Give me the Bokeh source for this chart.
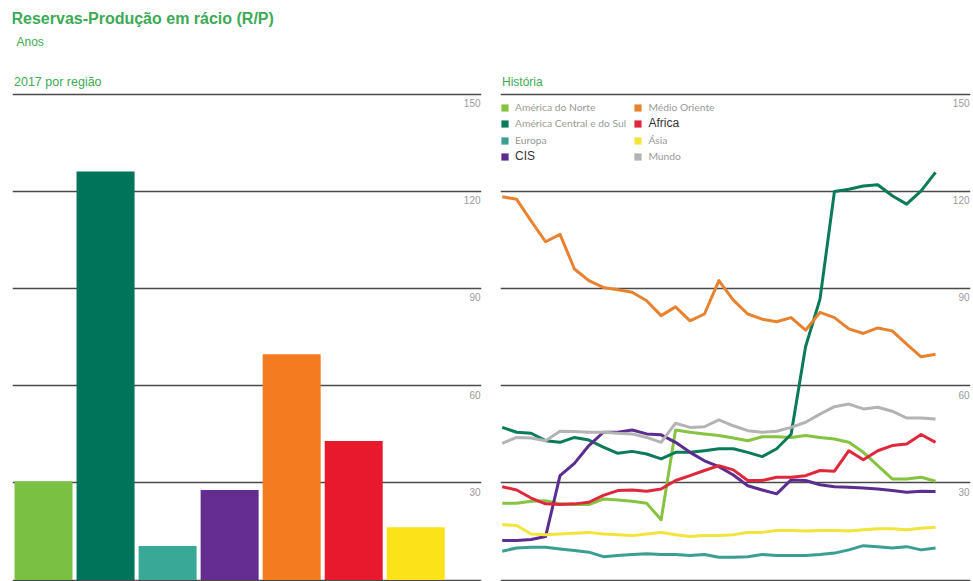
from bokeh.plotting import figure
from bokeh.layouts import row
from bokeh.models import Range1d, Grid, FixedTicker, Label, Legend, LegendItem
from bokeh.core.properties import value
from bokeh.embed import file_html
from bokeh.resources import INLINE

# ---------------- data ----------------
regions = ["América do Norte", "América Central e do Sul", "Europa", "CIS",
           "Médio Oriente", "Africa", "Ásia"]
rp_2017 = [30.5, 126.1, 10.5, 27.8, 69.7, 42.9, 16.3]
bar_colors = ["#7AC143", "#00745B", "#3AA897", "#652D90", "#F47B20", "#E8192C", "#FCE218"]

years = list(range(1987, 2018))
north_america = [23.7, 23.7, 24.3, 24.5, 23.5, 23.3, 23.3, 25.0, 24.7, 24.3, 23.7, 18.6,
                 46.3, 45.6, 45.1, 44.6, 43.8, 43.0, 44.2, 44.2, 44.0, 44.6, 44.0, 43.5,
                 42.5, 39.4, 35.3, 31.2, 31.2, 31.7, 30.5]
south_central_america = [47.1, 45.6, 45.3, 43.0, 42.5, 44.0, 43.2, 41.0, 39.1, 39.7, 38.9, 37.4,
                         39.4, 39.4, 39.9, 40.5, 40.5, 39.4, 38.1, 40.5, 45.0, 72.0, 86.7, 119.9,
                         120.6, 121.6, 122.0, 118.6, 116.0, 120.1, 125.8]
europe = [8.9, 9.9, 10.1, 10.1, 9.6, 9.1, 8.6, 7.2, 7.6, 7.9, 8.1, 7.9,
          7.9, 7.6, 7.9, 7.0, 7.0, 7.2, 7.9, 7.6, 7.6, 7.6, 7.9, 8.3,
          9.3, 10.6, 10.3, 9.9, 10.3, 9.3, 9.9]
cis = [12.2, 12.2, 12.5, 13.4, 32.2, 36.0, 41.5, 45.6, 45.6, 46.3, 45.1, 44.8,
       42.5, 39.4, 36.8, 35.0, 32.4, 29.1, 27.8, 26.6, 30.9, 30.7, 29.4, 28.8,
       28.6, 28.4, 28.1, 27.6, 27.1, 27.4, 27.3]
middle_east = [118.3, 117.5, 110.8, 104.4, 106.7, 96.0, 92.4, 90.3, 89.6, 88.8, 86.2, 81.6,
               84.3, 80.0, 82.1, 92.4, 86.4, 82.1, 80.5, 79.7, 81.0, 77.1, 82.6, 81.0,
               77.5, 76.1, 77.8, 76.9, 72.8, 68.9, 69.7]
africa = [28.8, 27.8, 25.3, 23.5, 23.3, 23.5, 24.0, 26.1, 27.6, 27.8, 27.4, 28.1,
          30.7, 32.2, 33.8, 35.3, 34.0, 30.7, 30.7, 31.7, 31.7, 32.2, 33.8, 33.6,
          39.9, 37.1, 39.9, 41.5, 42.0, 44.9, 42.5]
asia = [17.1, 16.8, 14.2, 14.0, 14.2, 14.4, 14.7, 14.2, 14.0, 13.7, 14.2, 14.7,
        14.0, 13.4, 13.7, 13.7, 14.0, 14.7, 14.7, 15.3, 15.3, 15.1, 15.3, 15.3,
        15.1, 15.5, 15.8, 15.8, 15.5, 16.0, 16.3]
world = [42.2, 44.0, 43.8, 43.0, 45.9, 45.8, 45.6, 45.6, 45.3, 45.1, 44.0, 42.5,
         48.4, 47.1, 47.3, 49.4, 47.6, 46.1, 45.6, 45.9, 47.1, 48.7, 51.2, 53.5,
         54.3, 52.8, 53.3, 52.1, 50.0, 50.0, 49.7]

series_names = ["América do Norte", "América Central e do Sul", "Europa", "CIS",
                "Médio Oriente", "Africa", "Ásia", "Mundo"]
series_values = [north_america, south_central_america, europe, cis,
                 middle_east, africa, asia, world]
line_colors = ["#86C341", "#0B7A5A", "#3A9E90", "#5B2D8E",
               "#E8822F", "#E0283C", "#F2E43A", "#B3B3B3"]

ticks = [0, 30, 60, 90, 120, 150]
tick_labels = ["30", "60", "90", "120", "150"]

# ---------------- styles ----------------
GREEN = "#3DAA55"
GRID = "#4a4a4a"
FONT = "Liberation Sans"
H = 581
PX_PER_UNIT = 3.24
Y0 = -0.46
Y1 = Y0 + H / PX_PER_UNIT   # frame covers the whole height so the headings are not clipped
NAN = float("nan")


def base_fig(width, x_range, border_left, border_right):
    p = figure(width=width, height=H, x_range=x_range, y_range=Range1d(Y0, Y1),
               x_axis_type=None, y_axis_type=None, toolbar_location=None,
               output_backend="svg", min_border_left=border_left,
               min_border_right=border_right, min_border_top=0, min_border_bottom=0)
    p.outline_line_color = None
    p.background_fill_color = "white"
    p.border_fill_color = "white"
    p.add_layout(Grid(dimension=1, ticker=FixedTicker(ticks=ticks),
                      grid_line_color=GRID, grid_line_width=1.6))
    p.text(x=[x_range.end] * len(tick_labels), y=ticks[1:], text=tick_labels,
           text_align="right", text_baseline="alphabetic", x_offset=-1, y_offset=9,
           text_font_size="10px", text_color="#9a9a9a", text_font=value(FONT))
    return p


# ---------------- left: bars ----------------
xr_left = Range1d(0, 7.56)
left = base_fig(490, xr_left, 12, 9)
xs = [i + 0.5 for i in range(len(regions))]
left.vbar(x=xs, top=rp_2017, width=0.935, color=bar_colors, line_color=None)

left.add_layout(Label(x=-1, y=H - 18, x_units="screen", y_units="screen",
                      text="Reservas-Produção em rácio (R/P)", text_font=FONT,
                      text_font_style="bold", text_font_size="16px", text_color=GREEN,
                      text_baseline="alphabetic"))
left.add_layout(Label(x=4, y=H - 41, x_units="screen", y_units="screen", text="Anos",
                      text_font=FONT, text_font_size="12px", text_color=GREEN,
                      text_baseline="alphabetic"))
left.add_layout(Label(x=1.5, y=H - 81, x_units="screen", y_units="screen",
                      text="2017 por região", text_font=FONT, text_font_size="12.5px",
                      text_color=GREEN, text_baseline="alphabetic"))

# ---------------- right: history lines ----------------
xr_right = Range1d(1986.88, 2019.42)
right = base_fig(483, xr_right, 10, 3)
for vals, c in zip(series_values, line_colors):
    right.line(years, vals, line_color=c, line_width=3, line_join="round")

right.add_layout(Label(x=1.5, y=H - 81, x_units="screen", y_units="screen",
                       text="História", text_font=FONT, text_font_size="12px",
                       text_color=GREEN, text_baseline="alphabetic"))

# legend: two columns of four; swatches come from invisible (NaN) quads
col_x = [0, 133.4]
row_center = [107, 123.3, 140, 156]
big = {"CIS", "Africa"}
for i, (name, c) in enumerate(zip(series_names, line_colors)):
    dummy = right.quad(left=[NAN], right=[NAN], top=[NAN], bottom=[NAN],
                       fill_color=c, line_color=None)
    col, r = divmod(i, 4)
    is_big = name in big
    h = 14 if is_big else 12
    leg = Legend(items=[LegendItem(label=name, renderers=[dummy])],
                 location=(col_x[col], H - (row_center[r] + h / 2)),
                 padding=0, margin=0, spacing=0, glyph_width=9, glyph_height=9,
                 label_height=9, label_standoff=6,
                 label_text_font=FONT if is_big else "Lato",
                 label_text_font_size="12px" if is_big else "10.3px",
                 label_text_color="#333333" if is_big else "#999999",
                 border_line_color=None, background_fill_alpha=0)
    right.add_layout(leg)

layout = row(left, right, spacing=0)
open("out.html", "w").write(file_html(layout, INLINE))
